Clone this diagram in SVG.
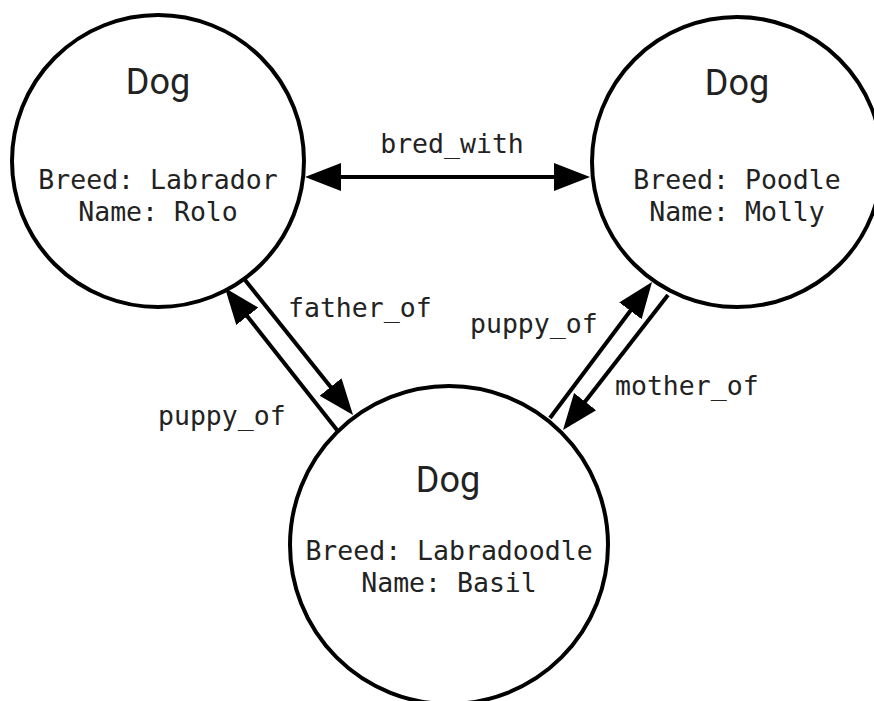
<svg xmlns="http://www.w3.org/2000/svg" width="874" height="701" viewBox="0 0 874 701">
  <style>
    .node { fill: #ffffff; stroke: #000000; stroke-width: 4; }
    .title { font-family: Roboto, "Noto Sans", sans-serif; font-size: 36px; fill: #222222; text-anchor: middle; }
    .info { font-family: "DejaVu Sans Mono", "Liberation Mono", monospace; font-size: 26.5px; fill: #222222; text-anchor: middle; }
    .edge { stroke: #000000; stroke-width: 4; fill: none; }
    .label { font-family: "DejaVu Sans Mono", "Liberation Mono", monospace; font-size: 26.5px; fill: #222222; }
  </style>
  <defs>
    <marker id="arrow" viewBox="0 -15 36 30" refX="30" refY="0" markerWidth="36" markerHeight="30" markerUnits="userSpaceOnUse" orient="auto-start-reverse">
      <path d="M0,-14 L36,0 L0,14 Z" fill="#000000"/>
    </marker>
  </defs>
  <rect width="874" height="701" fill="#ffffff"/>

  <g id="node-rolo">
    <circle class="node" cx="158" cy="161" r="146"/>
    <text class="title" x="158" y="94">Dog</text>
    <text class="info" x="158" y="189">Breed: Labrador</text>
    <text class="info" x="158" y="221">Name: Rolo</text>
  </g>

  <g id="node-molly">
    <circle class="node" cx="737" cy="162" r="145"/>
    <text class="title" x="737" y="95">Dog</text>
    <text class="info" x="737" y="189">Breed: Poodle</text>
    <text class="info" x="737" y="221">Name: Molly</text>
  </g>

  <g id="node-basil">
    <circle class="node" cx="449" cy="545" r="159"/>
    <text class="title" x="448" y="492">Dog</text>
    <text class="info" x="449" y="560">Breed: Labradoodle</text>
    <text class="info" x="449" y="592">Name: Basil</text>
  </g>

  <g id="connectors">
    <line class="edge" x1="311" y1="177" x2="584" y2="177" marker-start="url(#arrow)" marker-end="url(#arrow)"/>
    <text class="label" x="452" y="153" text-anchor="middle">bred_with</text>

    <line class="edge" x1="245" y1="280" x2="349.3" y2="410.3" marker-end="url(#arrow)"/>
    <text class="label" x="288" y="317">father_of</text>

    <line class="edge" x1="337" y1="430" x2="228.7" y2="292.7" marker-end="url(#arrow)"/>
    <text class="label" x="158" y="425">puppy_of</text>

    <line class="edge" x1="550" y1="418" x2="648.4" y2="286.8" marker-end="url(#arrow)"/>
    <text class="label" x="470" y="333">puppy_of</text>

    <line class="edge" x1="668" y1="295" x2="566.7" y2="425.3" marker-end="url(#arrow)"/>
    <text class="label" x="615" y="395">mother_of</text>
  </g>
</svg>
